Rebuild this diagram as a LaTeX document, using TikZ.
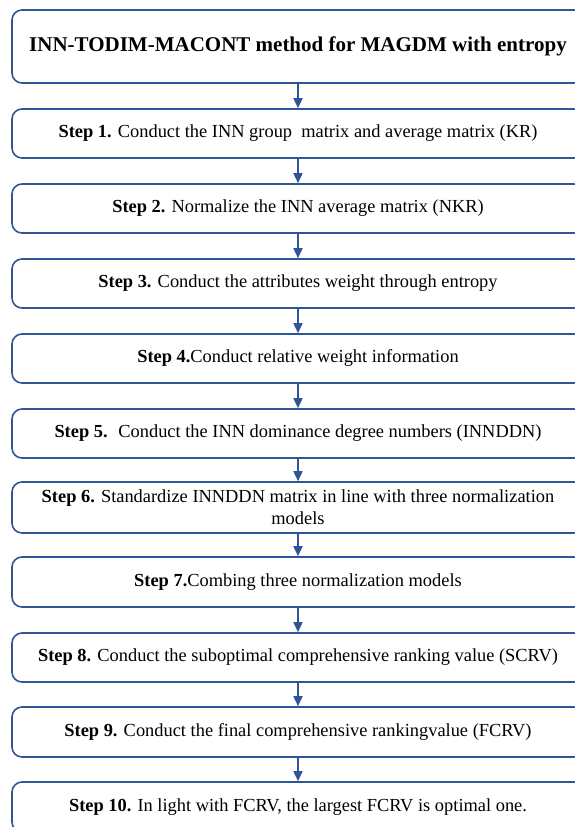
\documentclass[tikz,border=0pt]{standalone}
\usepackage{fontspec}
\setmainfont{Liberation Serif}
\usetikzlibrary{arrows.meta}
\definecolor{flowblue}{RGB}{47,85,151}
\begin{document}
\begin{tikzpicture}[x=1pt,y=-1pt,
  box/.style={draw=flowblue,line width=1.6pt,rounded corners=10pt,
    minimum width=572pt,inner sep=0pt,align=center,font=\fontsize{18.4}{22}\selectfont},
  conn/.style={draw=flowblue,line width=1.6pt,-{Triangle[length=10pt,width=9pt]}}]
\useasboundingbox (0,0) rectangle (575,827);
\clip (0,0) rectangle (575,827);
\node[box,minimum height=73pt,font=\fontsize{21}{25}\selectfont\bfseries] (t) at (298,46.5) {INN-TODIM-MACONT method for MAGDM with entropy};
\node[box,minimum height=49pt] (s1) at (298,133.5) {\textbf{Step 1.} Conduct the INN group~ matrix and average matrix (KR)};
\node[box,minimum height=49pt] (s2) at (298,208.5) {\textbf{Step 2.} Normalize the INN average matrix (NKR)};
\node[box,minimum height=49pt] (s3) at (298,283.5) {\textbf{Step 3.} Conduct the attributes weight through entropy};
\node[box,minimum height=49pt] (s4) at (298,358.5) {\textbf{Step 4.}Conduct relative weight information};
\node[box,minimum height=49pt] (s5) at (298,433.5) {\textbf{Step 5.}~ Conduct the INN dominance degree numbers (INNDDN)};
\node[box,minimum height=51pt] (s6) at (298,507.5) {\textbf{Step 6.} Standardize INNDDN matrix in line with three normalization\\models};
\node[box,minimum height=50pt] (s7) at (298,582) {\textbf{Step 7.}Combing three normalization models};
\node[box,minimum height=49pt] (s8) at (298,657.5) {\textbf{Step 8.} Conduct the suboptimal comprehensive ranking value (SCRV)};
\node[box,minimum height=50pt] (s9) at (298,732) {\textbf{Step 9.} Conduct the final comprehensive rankingvalue (FCRV)};
\node[box,minimum height=50pt] (s10) at (298,807) {\textbf{Step 10.} In light with FCRV, the largest FCRV is optimal one.};
\draw[conn] (t.south) -- (s1.north);
\draw[conn] (s1.south) -- (s2.north);
\draw[conn] (s2.south) -- (s3.north);
\draw[conn] (s3.south) -- (s4.north);
\draw[conn] (s4.south) -- (s5.north);
\draw[conn] (s5.south) -- (s6.north);
\draw[conn] (s6.south) -- (s7.north);
\draw[conn] (s7.south) -- (s8.north);
\draw[conn] (s8.south) -- (s9.north);
\draw[conn] (s9.south) -- (s10.north);
\end{tikzpicture}
\end{document}
